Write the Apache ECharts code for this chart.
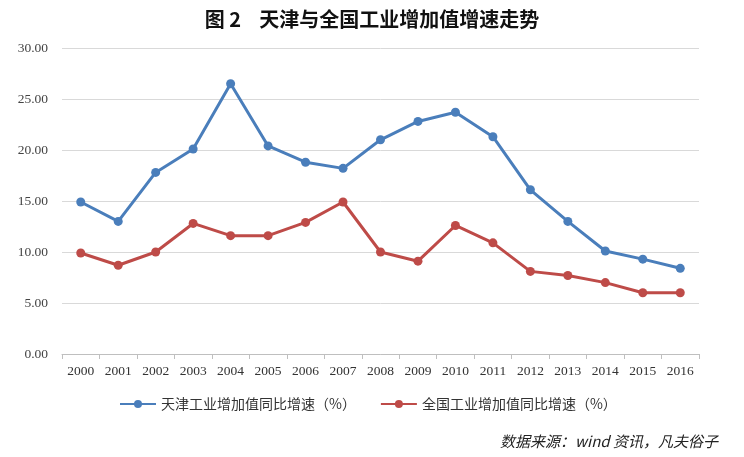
<!DOCTYPE html>
<html><head><meta charset="utf-8">
<script src="https://cdn.jsdelivr.net/npm/echarts@6/dist/echarts.min.js"></script>
<style>html,body{margin:0;padding:0;background:#fff}#c{width:744px;height:457px}</style>
</head><body><div id="c"></div>
<script>
const years = ['2000','2001','2002','2003','2004','2005','2006','2007','2008','2009','2010','2011','2012','2013','2014','2015','2016'];
const tianjin = [14.9,13.0,17.8,20.1,26.5,20.4,18.8,18.2,21.0,22.8,23.7,21.3,16.1,13.0,10.1,9.3,8.4];
const national = [9.9,8.7,10.0,12.8,11.6,11.6,12.9,14.9,10.0,9.1,12.6,10.9,8.1,7.7,7.0,6.0,6.0];
const seriesNames = ['天津工业增加值同比增速（%）','全国工业增加值同比增速（%）'];
const titleText = '图 2    天津与全国工业增加值增速走势';
const sourceText = '数据来源：wind 资讯，凡夫俗子';

const chart = echarts.init(document.getElementById('c'));
const serif = '"Liberation Serif","DejaVu Serif",serif';
chart.setOption({
  backgroundColor: '#fff',
  animation: false,
  title: [{
    text: titleText, left: 'center', top: 4,
    textStyle: {fontFamily: '"Noto Sans CJK SC"', fontWeight: 'bold', fontSize: 20, color: '#111'}
  }, {
    text: sourceText, right: 21, top: 429,
    textStyle: {fontFamily: '"Noto Sans CJK SC"', fontStyle: 'italic', fontWeight: 'normal', fontSize: 15, color: '#222'}
  }],
  legend: {
    left: 114, top: 392, itemWidth: 36, itemHeight: 10, itemGap: 24,
    textStyle: {fontFamily: '"Noto Sans CJK SC"', fontSize: 14, color: '#333'},
    data: seriesNames
  },
  grid: {left: 62, right: 45, top: 48, bottom: 103},
  xAxis: {
    type: 'category', data: years, boundaryGap: true,
    axisLine: {lineStyle: {color: '#bfbfbf'}},
    axisTick: {show: true, length: 5, lineStyle: {color: '#bfbfbf'}},
    axisLabel: {fontFamily: serif, fontSize: 13.5, color: '#333', margin: 10}
  },
  yAxis: {
    type: 'value', min: 0, max: 30, interval: 5,
    axisLine: {show: false}, axisTick: {show: false},
    splitLine: {lineStyle: {color: '#d9d9d9'}},
    axisLabel: {fontFamily: serif, fontSize: 13.5, color: '#444', margin: 14, formatter: v => v.toFixed(2)}
  },
  series: [{
    name: seriesNames[0], type: 'line', data: tianjin,
    symbol: 'circle', symbolSize: 9,
    lineStyle: {width: 3, color: '#4a7ebb'}, itemStyle: {color: '#4a7ebb'}
  }, {
    name: seriesNames[1], type: 'line', data: national,
    symbol: 'circle', symbolSize: 9,
    lineStyle: {width: 3, color: '#be4b48'}, itemStyle: {color: '#be4b48'}
  }]
});
</script></body></html>
